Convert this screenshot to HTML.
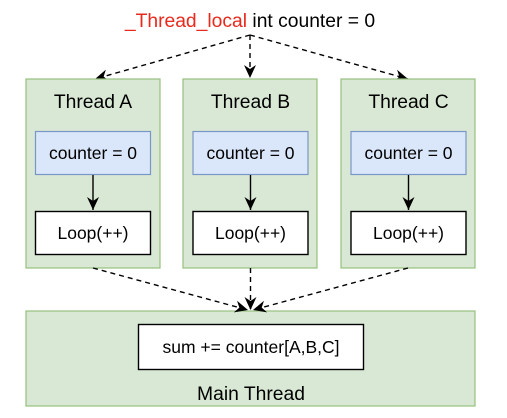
<!DOCTYPE html>
<html><head><meta charset="utf-8"><style>
body{margin:0;background:#fff;}
svg text{font-family:"Liberation Sans",Arial,sans-serif;font-size:17.5px;fill:#000;}
svg text.big{font-size:19.3px;}
</style></head><body>
<svg width="507" height="413" viewBox="0 0 507 413" xmlns="http://www.w3.org/2000/svg">
<defs>
<marker id="ah" markerWidth="14" markerHeight="14" refX="13" refY="7" orient="auto" markerUnits="userSpaceOnUse">
<path d="M0,1 L13,7 L0,13 L4,7 Z" fill="#000"/>
</marker>
</defs>
<text class="big" x="250" y="27" text-anchor="middle"><tspan fill="#e8291c" style="fill:#e8291c">_Thread_local</tspan> int counter = 0</text>
<g stroke="#000" stroke-width="1.4" stroke-dasharray="5,4" fill="none" marker-end="url(#ah)">
<line x1="250" y1="35" x2="95" y2="79"/>
<line x1="250" y1="35" x2="250" y2="78"/>
<line x1="250" y1="35" x2="408" y2="79"/>
</g>
<g fill="#d9e8d4" stroke="#97c07e" stroke-width="1.2">
<rect x="26" y="79" width="134" height="189"/>
<rect x="183" y="79" width="134" height="189"/>
<rect x="341" y="79" width="134" height="189"/>
<rect x="26" y="311" width="449" height="95"/>
</g>
<g fill="#dae6f9" stroke="#7a96c6" stroke-width="1.2">
<rect x="35.5" y="131.5" width="115" height="43"/>
<rect x="193" y="131.5" width="115" height="43"/>
<rect x="351" y="131.5" width="115" height="43"/>
</g>
<g fill="#fff" stroke="#000" stroke-width="1.4">
<rect x="35.5" y="211.5" width="115" height="43"/>
<rect x="193" y="211.5" width="115" height="43"/>
<rect x="351" y="211.5" width="115" height="43"/>
<rect x="138.5" y="324.5" width="225" height="45"/>
</g>
<g stroke="#000" stroke-width="1.4" marker-end="url(#ah)">
<line x1="93" y1="175" x2="93" y2="210"/>
<line x1="250.5" y1="175" x2="250.5" y2="210"/>
<line x1="408.5" y1="175" x2="408.5" y2="210"/>
</g>
<g stroke="#000" stroke-width="1.4" stroke-dasharray="5,4" fill="none" marker-end="url(#ah)">
<line x1="93" y1="268" x2="248" y2="310"/>
<line x1="250.5" y1="268" x2="250.5" y2="310"/>
<line x1="408" y1="268" x2="253" y2="310"/>
</g>
<g text-anchor="middle">
<text class="big" x="93" y="108">Thread A</text>
<text class="big" x="250.5" y="108">Thread B</text>
<text class="big" x="408.5" y="108">Thread C</text>
<text x="93" y="159">counter = 0</text>
<text x="250.5" y="159">counter = 0</text>
<text x="408.5" y="159">counter = 0</text>
<text x="93" y="239">Loop(++)</text>
<text x="250.5" y="239">Loop(++)</text>
<text x="408.5" y="239">Loop(++)</text>
<text x="251" y="353">sum += counter[A,B,C]</text>
<text class="big" x="251" y="400">Main Thread</text>
</g>
</svg>
</body></html>
